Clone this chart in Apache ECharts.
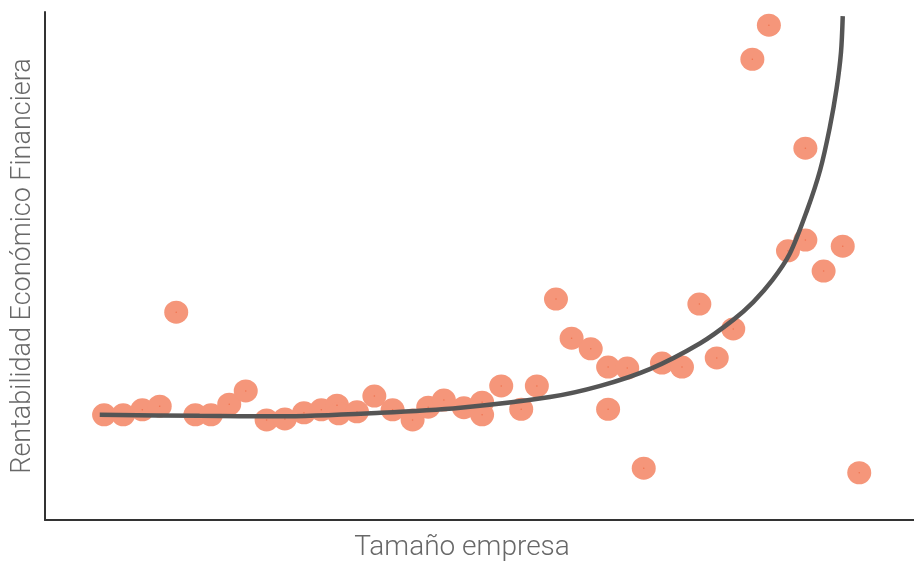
<!DOCTYPE html>
<html>
<head>
<meta charset="utf-8">
<title>Rentabilidad vs tamaño</title>
<script src="https://cdn.jsdelivr.net/npm/echarts@6/dist/echarts.min.js"></script>
<style>
  html, body { margin: 0; padding: 0; background: #ffffff; }
  #chart { width: 914px; height: 568px; }
</style>
</head>
<body>
<div id="chart"></div>
<script>
// Empresas: tamaño (x) y rentabilidad (y), unidades relativas 0-100
var firmSize = [6.8, 9.0, 11.2, 13.2, 15.1, 17.3, 19.1, 21.2, 23.1, 25.5,
                27.6, 29.8, 31.8, 33.6, 33.8, 35.9, 37.9, 40.0, 42.3, 44.1,
                45.9, 48.2, 50.3, 50.3, 52.5, 54.8, 56.6, 58.8, 60.6, 62.8,
                64.8, 64.8, 67.0, 68.9, 71.0, 73.3, 75.3, 77.3, 79.2, 81.4,
                83.3, 85.5, 87.5, 87.5, 89.6, 91.8, 93.7];
var profitability = [20.7, 20.7, 21.7, 22.4, 40.9, 20.7, 20.7, 22.8, 25.4, 19.7,
                     19.9, 21.1, 21.7, 22.6, 20.9, 21.3, 24.4, 21.7, 19.7, 22.2,
                     23.6, 22.1, 23.2, 20.7, 26.4, 21.8, 26.4, 43.5, 35.8, 33.7,
                     30.1, 21.8, 29.9, 10.2, 30.9, 30.1, 42.5, 31.9, 37.6, 90.7,
                     97.4, 53.0, 73.2, 55.1, 49.0, 53.9, 9.3];

// Curva de tendencia ajustada
var trendX = [6.3, 17.8, 27.0, 38.6, 47.8, 58.1, 63.9, 69.6, 75.4, 79.2,
              81.5, 83.7, 85.7, 87.7, 89.2, 90.3, 91.1, 91.6, 91.8];
var trendY = [20.7, 20.5, 20.4, 21.1, 22.1, 24.2, 26.4, 29.7, 34.8, 39.4,
              42.9, 47.2, 52.4, 61.0, 68.9, 77.2, 85.0, 92.1, 99.2];

var xTitle = 'Tamaño empresa';
var yTitle = 'Rentabilidad Económico Financiera';

var points = firmSize.map(function (x, i) { return [x, profitability[i]]; });
var trend = trendX.map(function (x, i) { return [x, trendY[i]]; });

function titleFont(size, pad) {
  return {
    fontFamily: 'Roboto, "Open Sans", sans-serif',
    fontWeight: 300,
    fontSize: size,
    color: '#686868',
    padding: pad
  };
}

var chart = echarts.init(document.getElementById('chart'), null, { renderer: 'canvas' });
chart.setOption({
  backgroundColor: '#ffffff',
  animation: false,
  grid: { left: 45, right: 0, top: 12, bottom: 48 },
  xAxis: {
    type: 'value', min: 0, max: 100,
    name: xTitle, nameLocation: 'middle', nameGap: 14,
    nameTextStyle: titleFont(28, [0, 35, 0, 0]),
    axisLine: { show: true, lineStyle: { color: '#333333', width: 2 } },
    axisTick: { show: false }, axisLabel: { show: false }, splitLine: { show: false }
  },
  yAxis: {
    type: 'value', min: 0, max: 100,
    name: yTitle, nameLocation: 'middle', nameGap: 8,
    nameTextStyle: titleFont(27, 0),
    axisLine: { show: true, lineStyle: { color: '#333333', width: 2 } },
    axisTick: { show: false }, axisLabel: { show: false }, splitLine: { show: false }
  },
  series: [
    {
      type: 'scatter',
      data: points,
      symbol: 'circle',
      symbolSize: [24, 23],
      itemStyle: { color: '#f5967a', opacity: 1 },
      z: 2
    },
    {
      type: 'scatter',
      data: points,
      symbol: 'circle',
      symbolSize: 1.5,
      itemStyle: { color: '#ee6a45' },
      silent: true,
      z: 3
    },
    {
      type: 'line',
      data: trend,
      smooth: 0.3,
      showSymbol: false,
      lineStyle: { color: '#555555', width: 4.5 },
      z: 4
    }
  ]
});
</script>
</body>
</html>
